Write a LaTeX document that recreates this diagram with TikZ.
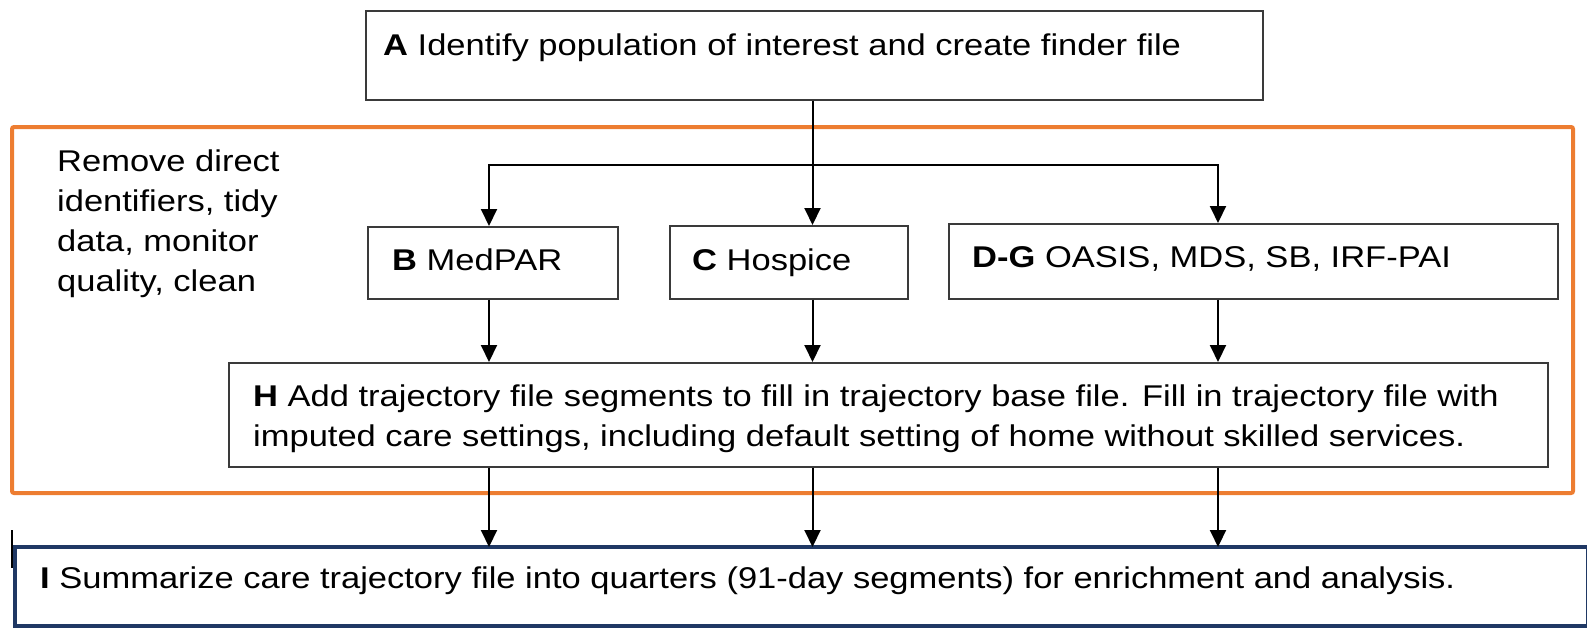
\documentclass[tikz,border=0pt]{standalone}
\usepackage{fontspec}
\setmainfont[FakeStretch=1.15]{Liberation Sans}
\usetikzlibrary{arrows.meta}
\definecolor{frameorange}{HTML}{ED7D31}
\definecolor{navy}{HTML}{1F3864}
\definecolor{boxgray}{HTML}{3A3A3A}
\begin{document}
\begin{tikzpicture}[x=1pt,y=-1pt,
  box/.style={draw=boxgray, line width=1.5pt, rectangle, inner sep=0pt, anchor=north west},
  txt/.style={inner sep=0pt, font=\fontsize{30}{40}\selectfont},
  link/.style={draw=black, line width=2pt},
  arr/.style={link, -{Triangle[length=17pt,width=16pt]}}
]
\useasboundingbox (0,0) rectangle (1587,627);
% orange frame
\draw[frameorange, line width=4pt, rounded corners=2pt] (12,127) rectangle (1573,493);
% boxes
\node[box, minimum width=897pt, minimum height=89pt] (A) at (365,10) {};
\node[box, minimum width=250pt, minimum height=72pt] (B) at (367,226) {};
\node[box, minimum width=238pt, minimum height=73pt] (C) at (669,225) {};
\node[box, minimum width=609pt, minimum height=75pt] (D) at (948,223) {};
\node[box, minimum width=1319pt, minimum height=104pt] (H) at (228,362) {};
\node[draw=navy, line width=4pt, rectangle, inner sep=0pt, anchor=north west,
      minimum width=1573pt, minimum height=79pt] (I) at (12.5,545) {};
% texts
\node[txt, anchor=base west] (At) at (383,55) {\textbf{A} Identify population of interest and create finder file};
\node[txt, anchor=north west, align=left] (R) at (57,150) {Remove direct\\identifiers, tidy\\data, monitor\\quality, clean};
\node[txt, anchor=base west] (Bt) at (392,270) {\textbf{B} MedPAR};
\node[txt, anchor=base west] (Ct) at (692,270) {\textbf{C} Hospice};
\node[txt, anchor=base west] (Dt) at (972,267) {\textbf{D-G} OASIS, MDS, SB, IRF-PAI};
\node[txt, anchor=north west, align=left] (Ht) at (253,385) {\textbf{H} Add trajectory file segments to fill in trajectory base file. Fill in trajectory file with\\imputed care settings, including default setting of home without skilled services.};
\node[txt, anchor=base west] (It) at (40,588) {\textbf{I} Summarize care trajectory file into quarters (91-day segments) for enrichment and analysis.};
% columns
\coordinate (c1) at (489,0);
\coordinate (c2) at (812.5,0);
\coordinate (c3) at (1218,0);
\coordinate (br) at (812.5,165);
% connectors
\draw[link] (A.south -| c2) -- (br);
\draw[arr] (br) -- (C.north -| c2);
\draw[arr] (br) -| (B.north -| c1);
\draw[arr] (br) -| (D.north -| c3);
\draw[arr] (B.south -| c1) -- (H.north -| c1);
\draw[arr] (C.south -| c2) -- (H.north -| c2);
\draw[arr] (D.south -| c3) -- (H.north -| c3);
\draw[arr] (H.south -| c1) -- ([yshift=-2pt]I.north -| c1);
\draw[arr] (H.south -| c2) -- ([yshift=-2pt]I.north -| c2);
\draw[arr] (H.south -| c3) -- ([yshift=-2pt]I.north -| c3);
% stray tick
\coordinate (t1) at (11.5,530);
\coordinate (t2) at (11.5,568);
\draw[black, line width=2pt] (t1) -- (t2);
\end{tikzpicture}
\end{document}
